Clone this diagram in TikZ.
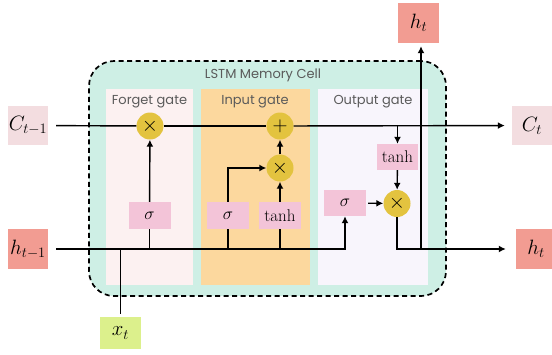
\documentclass[tikz,border=0pt]{standalone}
\usepackage{fontspec}
\newfontfamily\gatefont{Poppins}
\usepackage{xcolor}
\definecolor{lstmcell}{RGB}{206,239,229}
\definecolor{lstmforget}{RGB}{252,241,241}
\definecolor{lstminput}{RGB}{252,216,158}
\definecolor{lstmoutput}{RGB}{248,245,252}
\definecolor{lstmop}{RGB}{227,195,63}
\definecolor{lstmact}{RGB}{243,196,216}
\definecolor{lstmstate}{RGB}{243,221,224}
\definecolor{lstmhidden}{RGB}{242,156,146}
\definecolor{lstmxin}{RGB}{220,240,140}
\definecolor{lstmgrey}{RGB}{90,90,90}
\usetikzlibrary{arrows.meta,positioning,calc}
\tikzset{
  cell/.style={draw=black,line width=1.7pt,dash pattern=on 5pt off 3.5pt,rounded corners=25pt,fill=lstmcell},
  panel/.style={inner sep=0pt,minimum height=196pt},
  gatelab/.style={font=\gatefont\fontsize{13}{15}\selectfont,text=lstmgrey},
  io/.style={inner sep=0pt,minimum width=40pt,minimum height=39pt,font=\fontsize{22}{24}\selectfont},
  act/.style={fill=lstmact,inner sep=0pt,minimum width=42pt,minimum height=27pt,font=\fontsize{17}{19}\selectfont},
  op/.style={circle,fill=lstmop,inner sep=0pt,minimum size=27pt,font=\fontsize{22}{22}\selectfont},
  line/.style={line width=1.4pt,draw=black},
  arr/.style={line,-{Latex[length=7pt,width=7pt]}},
}

\begin{document}
\begin{tikzpicture}[x=1pt,y=-1pt]
    \useasboundingbox (0,0) rectangle (552,354);
    % memory cell and the three gates
    \node[cell,minimum width=357pt,minimum height=235pt] (cell) at (267.5,178.5) {};
    \node[gatelab] (title) at (263,75) {LSTM Memory Cell};
    \node[panel,fill=lstmforget,minimum width=87pt] (fpanel) at (149.5,187) {};
    \node[panel,fill=lstminput,minimum width=109pt] (ipanel) at (255,187) {};
    \node[panel,fill=lstmoutput,minimum width=110pt] (opanel) at (373,187) {};
    \node[gatelab] (flab) at (149.5,102) {Forget gate};
    \node[gatelab] (ilab) at (255,102) {Input gate};
    \node[gatelab] (olab) at (373,102) {Output gate};

    % inputs and outputs
    \node[io,fill=lstmstate] (cin) at (28,125.5) {$C_{t-1}$};
    \node[io,fill=lstmhidden,minimum height=40pt] (hin) at (28,249) {$h_{t-1}$};
    \node[io,fill=lstmxin,minimum width=41pt,minimum height=32pt] (xin) at (120.5,333) {$x_t$};
    \node[io,fill=lstmstate] (cout) at (532,125.5) {$C_t$};
    \node[io,fill=lstmhidden,minimum height=40pt] (hout) at (536,249) {$h_t$};
    \node[io,fill=lstmhidden,minimum width=41pt,minimum height=40pt] (htop) at (418.5,23) {$h_t$};

    % operations
    \node[op] (fmul) at (150,126) {$\times$};
    \node[act] (fsig) at (149.5,215.5) {$\sigma$};
    \node[op] (iadd) at (280,126) {$+$};
    \node[op] (imul) at (280,168) {$\times$};
    \node[act] (isig) at (228,215.5) {$\sigma$};
    \node[act] (itanh) at (280,215.5) {tanh};
    \node[act,minimum height=26pt] (osig) at (345,203) {$\sigma$};
    \node[op] (omul) at (397,203.5) {$\times$};
    \node[act,minimum width=41pt,minimum height=26pt] (otanh) at (397.5,157) {tanh};

    % cell state
    \draw[line,shorten <=8pt] (cin) -- (fmul);
    \draw[line] (fmul) -- (iadd);
    \draw[arr,shorten >=7pt] (iadd) -- (cout);
    \draw[arr] (otanh |- iadd) -- (otanh);

    % hidden state and input
    \draw[arr,shorten <=8pt] (hin) -| (osig);
    \draw[line,shorten <=3pt] (xin) -- (xin |- hin);
    \draw[line] (fsig |- hin) -- (fsig);
    \draw[arr] (fsig) -- (fmul);
    \draw[line] (isig |- hin) -- (isig);
    \draw[arr] (isig.north) |- (imul.west);
    \draw[line] (itanh |- hin) -- (itanh);
    \draw[arr] (itanh) -- (imul);
    \draw[arr] (imul) -- (iadd);

    % output
    \draw[arr,shorten <=2pt] (osig) -- (omul);
    \draw[arr] (otanh) -- (omul);
    \draw[arr,shorten >=10pt] (omul.south) |- (hout.west);
    \draw[arr,shorten >=3pt] ([xshift=2.5pt]htop |- hin) -- ([xshift=2.5pt]htop.south);
  \end{tikzpicture}
\end{document}
